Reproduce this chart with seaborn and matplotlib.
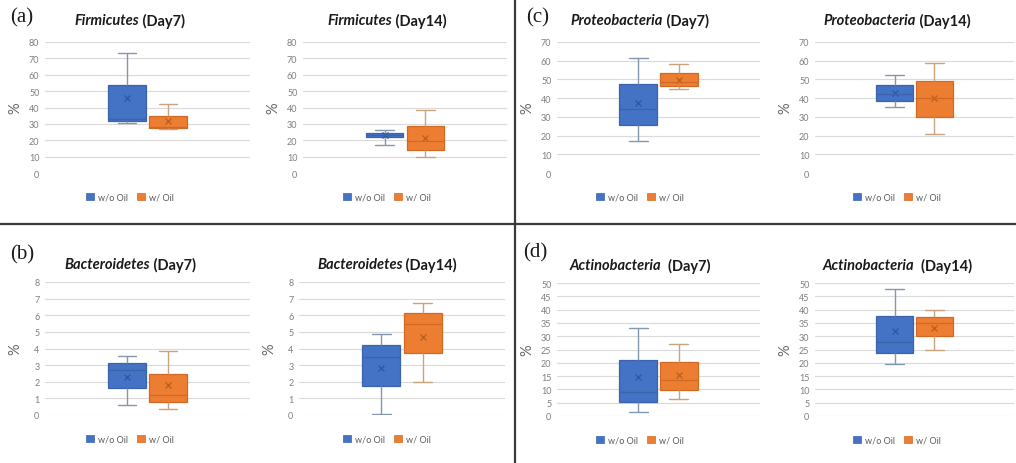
import pandas as pd
import matplotlib.pyplot as plt
from matplotlib.patches import Patch
from matplotlib.lines import Line2D
import seaborn as sns

# five-number summaries (min, q1, median, q3, max)
groups = ['w/o Oil', 'w/ Oil']

firm_d7 = [[30.5, 32.0, 33.0, 53.5, 73.0], [26.7, 27.3, 28.0, 34.8, 42.0]]
firm_d7_mean = [45.6, 31.8]
firm_d14 = [[17.3, 22.0, 23.2, 24.6, 26.3], [10.0, 14.2, 19.5, 28.7, 38.5]]
firm_d14_mean = [23.2, 21.6]

prot_d7 = [[17.0, 25.5, 34.2, 47.7, 61.5], [45.0, 46.3, 48.7, 53.2, 58.3]]
prot_d7_mean = [37.4, 49.8]
prot_d14 = [[35.3, 38.6, 42.4, 47.1, 52.1], [20.9, 30.1, 39.9, 49.3, 58.8]]
prot_d14_mean = [42.9, 39.9]

bact_d7 = [[0.6, 1.63, 2.7, 3.1, 3.54], [0.34, 0.78, 1.23, 2.49, 3.84]]
bact_d7_mean = [2.31, 1.81]
bact_d14 = [[0.06, 1.77, 3.5, 4.19, 4.88], [1.98, 3.75, 5.48, 6.11, 6.71]]
bact_d14_mean = [2.82, 4.72]

act_d7 = [[1.6, 5.4, 9.2, 21.2, 33.0], [6.4, 9.8, 13.4, 20.2, 27.1]]
act_d7_mean = [14.8, 15.5]
act_d14 = [[19.5, 23.7, 28.0, 37.7, 47.6], [24.9, 29.9, 35.0, 37.2, 39.7]]
act_d14_mean = [31.8, 33.2]

# panel: (stats, means, taxon, day, ymax, ystep, axes rect in pixels [left, top, width, height])
panels = [
    (firm_d7, firm_d7_mean, 'Firmicutes', '(Day7)', 80, 10, (45, 43, 205, 131)),
    (firm_d14, firm_d14_mean, 'Firmicutes', '(Day14)', 80, 10, (303, 43, 204, 131)),
    (prot_d7, prot_d7_mean, 'Proteobacteria', '(Day7)', 70, 10, (557, 43, 203, 131)),
    (prot_d14, prot_d14_mean, 'Proteobacteria', '(Day14)', 70, 10, (815, 43, 199, 131)),
    (bact_d7, bact_d7_mean, 'Bacteroidetes', '(Day7)', 8, 1, (45, 283, 205, 133)),
    (bact_d14, bact_d14_mean, 'Bacteroidetes', '(Day14)', 8, 1, (299, 283, 206, 133)),
    (act_d7, act_d7_mean, 'Actinobacteria', ' (Day7)', 50, 5, (557, 284, 203, 133)),
    (act_d14, act_d14_mean, 'Actinobacteria', ' (Day14)', 50, 5, (815, 284, 199, 133)),
]
# centre of each chart area (title / legend), pixels
centers = [130, 387, 640, 897, 130, 387, 640, 897]

fills = {'w/o Oil': '#4472C4', 'w/ Oil': '#ED7D31'}
edges = {'w/o Oil': '#3B63AD', 'w/ Oil': '#CF6A25'}
whisk = {'w/o Oil': '#8497B0', 'w/ Oil': '#C9A27E'}
means_c = {'w/o Oil': '#3357A0', 'w/ Oil': '#C0601F'}

W, H = 1016, 464
sns.set_style('whitegrid')
plt.rcParams['font.family'] = ['Lato', 'DejaVu Sans']

fig = plt.figure(figsize=(W / 100, H / 100), dpi=100)

for i, (stats, means, taxon, day, ymax, ystep, rect) in enumerate(panels):
    left, top, w, h = rect
    ax = fig.add_axes([left / W, (H - top - h) / H, w / W, h / H])

    for g, vals in zip(groups, stats):
        sub = pd.DataFrame({'cat': 'x', 'val': vals, 'group': g})
        sns.boxplot(data=sub, x='cat', y='val', hue='group', hue_order=groups,
                    palette=fills, saturation=1, dodge=True, width=0.4, gap=0.075,
                    whis=(0, 100), linecolor=edges[g], linewidth=0.9,
                    whiskerprops={'color': whisk[g], 'linewidth': 1.0},
                    capprops={'color': whisk[g], 'linewidth': 1.0},
                    medianprops={'color': edges[g], 'linewidth': 0.9},
                    showfliers=False, legend=False, ax=ax)

    mdf = pd.DataFrame({'cat': 'x', 'mean': means, 'group': groups})
    sns.pointplot(data=mdf, x='cat', y='mean', hue='group', hue_order=groups,
                  palette=means_c, dodge=0.2, markers='x', linestyles='none',
                  errorbar=None, markersize=5, markeredgewidth=1.0,
                  legend=False, ax=ax)

    ax.set_xlim(-0.5, 0.5)
    ax.set_ylim(0, ymax)
    ax.set_yticks(range(0, ymax + 1, ystep))
    ax.set_xticks([])
    ax.set_xlabel('')
    ax.xaxis.grid(False)
    ax.yaxis.grid(True, color='#d9d9d9', linewidth=0.8)
    for s in ax.spines.values():
        s.set_visible(False)
    ax.tick_params(axis='y', length=0, labelsize=6.5, labelcolor='#7f7f7f', pad=4)
    ax.set_ylabel('%', fontsize=10.5, color='#666666')
    ax.yaxis.set_label_coords(-23 / w, 0.5)

    # title: italic taxon + bold day
    ty = top - 22 if top < 100 else top - 18
    r = fig.canvas.get_renderer()
    t1 = fig.text(0, 1 - ty / H, taxon, fontsize=10.5, weight='bold', style='italic',
                  color='#1a1a1a', va='center')
    t2 = fig.text(0, 1 - ty / H, ' ' + day, fontsize=10.5, weight='bold',
                  color='#1a1a1a', va='center')
    w1 = t1.get_window_extent(r).width
    w2 = t2.get_window_extent(r).width
    x0 = centers[i] - (w1 + w2) / 2
    t1.set_x(x0 / W)
    t2.set_x((x0 + w1) / W)

    handles = [Patch(facecolor=fills[g], edgecolor=edges[g], linewidth=0.5) for g in groups]
    ly = top + h + 24
    ax.legend(handles, groups, loc='center', bbox_to_anchor=(centers[i] / W, 1 - ly / H),
              bbox_transform=fig.transFigure, ncol=2, frameon=False, fontsize=6.5,
              labelcolor='#595959', handlelength=0.9, handleheight=0.9,
              handletextpad=0.4, columnspacing=1.0)

# panel letters
for lab, x, y in [('(a)', 22, 18), ('(b)', 22, 255), ('(c)', 538, 18), ('(d)', 535, 253)]:
    fig.text(x / W, 1 - y / H, lab, fontsize=15, family='Liberation Serif',
             ha='center', va='center', color='#1a1a1a')

# dividers
fig.add_artist(Line2D([0, 1], [1 - 225 / H] * 2, transform=fig.transFigure,
                      color='#3a3a3a', linewidth=1.6))
fig.add_artist(Line2D([515 / W] * 2, [0, 1], transform=fig.transFigure,
                      color='#3a3a3a', linewidth=1.6))

fig.savefig('out.png', dpi=100, facecolor='white')
